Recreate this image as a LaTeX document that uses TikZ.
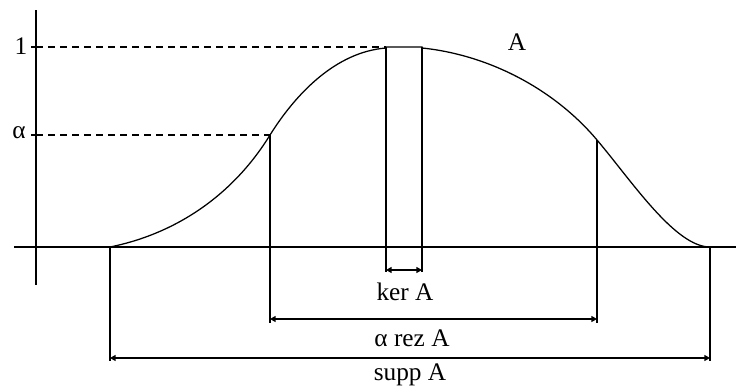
\documentclass[tikz,border=0pt]{standalone}
\usepackage{fontspec}
\setmainfont{Liberation Serif}
\usetikzlibrary{arrows.meta}
\tikzset{
  dimline/.style={{Triangle[length=1.4mm,width=1.5mm]}-{Triangle[length=1.4mm,width=1.5mm]}},
  guide/.style={dash pattern=on 1.75mm off 1.25mm},
  lbl/.style={font=\fontsize{18}{20}\selectfont, inner sep=1pt},
}
\begin{document}
\begin{tikzpicture}[x=0.025cm, y=-0.025cm, line width=0.9pt]
  \useasboundingbox (0,0) rectangle (736,387);
  % axes
  \coordinate (xl) at (14,247);
  \coordinate (xr) at (736,247);
  \coordinate (yt) at (36,10);
  \coordinate (yb) at (36,285);
  \draw (xl) -- (xr);
  \draw (yt) -- (yb);
  % levels 1 and alpha
  \coordinate (one)   at (36,47);
  \coordinate (alpha) at (36,135);
  \draw (one) -- ++(-5,0);
  \draw (alpha) -- ++(-5,0);
  \node[lbl] (lone)   at (21,46)  {1};
  \node[lbl] (lalpha) at (19,133) {α};
  % key points on the curve
  \coordinate (s1) at (110,247);
  \coordinate (a1) at (270,135);
  \coordinate (k1) at (386,47);
  \coordinate (k2) at (422,47);
  \coordinate (a2) at (597,140);
  \coordinate (s2) at (710,247);
  \draw[guide] (one) -- (k1);
  \draw[guide] (alpha) -- (a1);
  % membership curve
  \draw (s1) .. controls (170,235) and (230,200) .. (a1)
             .. controls (295,95) and (335,52) .. (386,48) -- (k1) -- (k2) -- (422,48)
             .. controls (490,55) and (555,90) .. (a2)
             .. controls (631,180) and (675,247) .. (s2);
  \node[lbl] (lA) at (517,42) {A};
  % kernel
  \coordinate (kb1) at (386,272);
  \coordinate (kb2) at (422,272);
  \draw (k1) -- (kb1);
  \draw (k2) -- (kb2);
  \draw[dimline] (386,270) -- (422,270);
  \node[lbl] (lker) at (405,292) {ker A};
  % alpha cut
  \coordinate (ab1) at (270,323);
  \coordinate (ab2) at (597,323);
  \draw (a1) -- (ab1);
  \draw (a2) -- (ab2);
  \draw[dimline] (270,319) -- (597,319);
  \node[lbl] (lrez) at (412,338) {α rez A};
  % support
  \coordinate (sb1) at (110,361);
  \coordinate (sb2) at (710,361);
  \draw (s1) -- (sb1);
  \draw (s2) -- (sb2);
  \draw[dimline] (110,358) -- (710,358);
  \node[lbl] (lsupp) at (410,375) {supp A};
\end{tikzpicture}
\end{document}
